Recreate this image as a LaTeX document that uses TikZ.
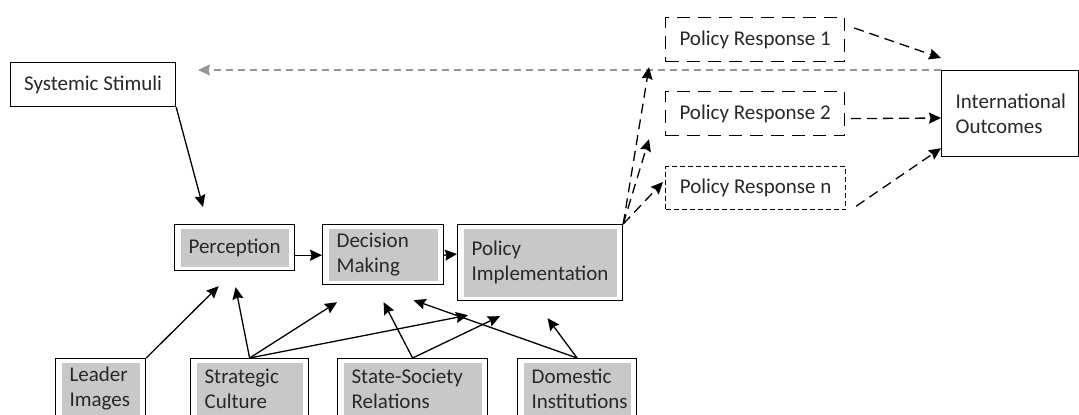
\documentclass[tikz,border=0pt]{standalone}
\usepackage{fontspec}
\setmainfont{Carlito}
\usetikzlibrary{arrows.meta,calc}
\definecolor{boxgray}{RGB}{200,200,200}
\definecolor{linegray}{RGB}{150,150,150}
\definecolor{inkc}{RGB}{40,40,40}
\tikzset{
  txt/.style={font=\fontsize{21}{25}\selectfont, text=inkc},
  dbox/.style 2 args={draw=black, line width=1.2pt, fill=white, txt,
    minimum width=#1, minimum height=#2, text width=#1-28pt, inner xsep=14pt, inner ysep=0pt,
    align=left, anchor=north west,
    path picture={\fill[boxgray] ([xshift=6pt,yshift=-4pt]path picture bounding box.north west) rectangle ([xshift=-6pt,yshift=4pt]path picture bounding box.south east);}},
  sbox/.style 2 args={draw=black, line width=1.2pt, fill=white, txt,
    minimum width=#1, minimum height=#2, inner sep=0pt, anchor=north west},
  pbox/.style={draw=black, line width=1.2pt, dash pattern=on 13pt off 8pt, txt,
    minimum width=179pt, minimum height=44pt, inner sep=0pt, anchor=north west},
  pnbox/.style={draw=black, line width=1.2pt, dash pattern=on 5pt off 3pt, txt,
    minimum width=180pt, minimum height=43pt, inner sep=0pt, anchor=north west},
  arr/.style={line width=1.3pt, -{Stealth[length=12pt,width=11pt,inset=1.5pt]}},
  darr/.style={arr, dash pattern=on 10pt off 6pt},
  garr/.style={line width=1.2pt, draw=linegray, dash pattern=on 7pt off 5pt,
    -{Stealth[length=12pt,width=11pt,inset=1.5pt]}}
}
\begin{document}
\begin{tikzpicture}[x=1pt,y=-1pt]
\useasboundingbox (0,0) rectangle (1079,415);
% top-left
\node[sbox={165pt}{44pt}] (sys) at (10,62) {Systemic Stimuli};
% process chain
\node[dbox={120pt}{46pt}] (perc) at (174,224) {Perception};
\node[dbox={121pt}{60pt}] (dec) at (322,224) {Decision\\Making};
\node[dbox={165pt}{76pt}] (impl) at (457,224) {Policy\\Implementation};
% bottom factors
\node[dbox={90pt}{60pt}] (lead) at (55,358) {Leader\\Images};
\node[dbox={118pt}{60pt}] (strat) at (190,358) {Strategic\\Culture};
\node[dbox={150pt}{60pt}] (soc) at (337,358) {State-Society\\Relations};
\node[dbox={119pt}{60pt}] (dom) at (517,358) {Domestic\\Institutions};
% policy responses
\node[pbox] (pr1) at (665,17) {Policy Response 1};
\node[pbox] (pr2) at (665,91) {Policy Response 2};
\node[pnbox] (prn) at (665,166) {Policy Response n};
% outcomes
\node[sbox={137pt}{86pt}, text width=109pt, inner xsep=14pt, align=left,
      font=\fontsize{21}{25}\selectfont] (io) at (941,70) {International\\Outcomes};
% feedback
\coordinate (fbend) at (198,70);
\draw[garr] (io.north west) -- (fbend);
% chain arrows
\draw[arr] (sys.south east) -- ($(perc.north west)+(29,-17)$);
\draw[arr] ($(perc.south east)+(0,-16)$) -- ($(dec.south west)+(0,-30)$);
\draw[arr] ($(dec.south east)+(0,-30)$) -- ($(impl.north west)+(0,30)$);
% factor arrows
\draw[arr] (lead.north east) -- ($(perc.south)+(-16,15)$);
\draw[arr] (strat.north) -- ($(perc.south)+(1,16)$);
\draw[arr] (strat.north) -- ($(dec.south west)+(15,17)$);
\draw[arr] (strat.north) -- ($(impl.south west)+(11,14)$);
\draw[arr] (soc.north) -- ($(dec.south)+(0.5,17)$);
\draw[arr] (soc.north) -- ($(impl.south west)+(43,15)$);
\draw[arr] (dom.north) -- ($(dec.south)+(30.5,15)$);
\draw[arr] (dom.north) -- ($(impl.south)+(7.5,17)$);
% responses
\draw[darr] (impl.north east) -- ($(pr1.south west)+(-16,5)$);
\draw[darr] (impl.north east) -- ($(pr2.south west)+(-16,3)$);
\draw[darr] (impl.north east) -- ($(prn.north west)+(-2,16)$);
% to outcomes
\draw[darr] ($(pr1.north east)+(9,11)$) -- ($(io.north west)+(0,-12)$);
\draw[darr] ($(pr2.east)+(6,5)$) -- ($(io.north west)+(0,48)$);
\draw[darr] ($(prn.south east)+(10,-4)$) -- ($(io.south west)+(0,-9)$);
\end{tikzpicture}
\end{document}
